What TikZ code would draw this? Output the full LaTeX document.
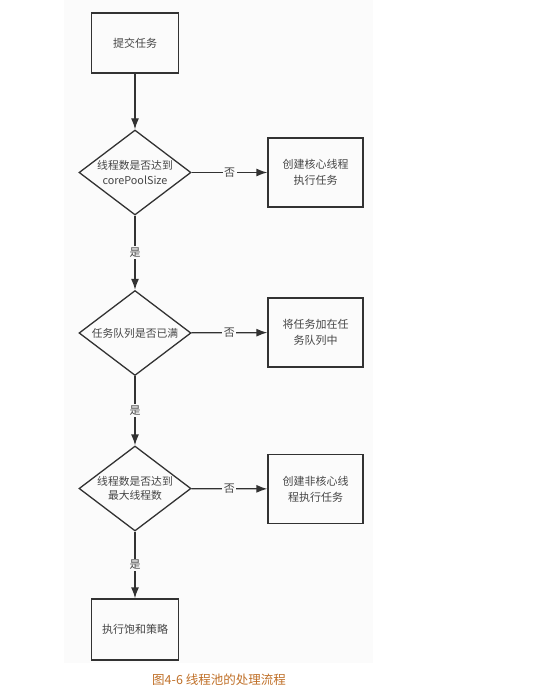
\documentclass[tikz,border=0pt]{standalone}
\usepackage{fontspec}
\newfontfamily\cjk{Noto Sans CJK SC}
\usepackage{xcolor}
\usepackage{tikz}
\usetikzlibrary{shapes.geometric}
\usetikzlibrary{arrows.meta}
\definecolor{linegray}{RGB}{50,50,50}
\definecolor{textgray}{RGB}{70,70,70}
\definecolor{panelgray}{RGB}{251,251,251}
\definecolor{capcolor}{RGB}{192,112,40}

\begin{document}
\begin{tikzpicture}[x=1pt, y=1pt, font=\cjk, text=textgray,
  box/.style = {draw=linegray, line width=1.3pt, align=center, inner sep=0pt, font=\cjk\fontsize{11}{16}\selectfont},
  choice/.style = {diamond, draw=linegray, line width=1.3pt, align=center, inner sep=0pt, aspect=1.32, minimum width=112pt, minimum height=85pt, font=\cjk\fontsize{10.8}{14.5}\selectfont},
  flow/.style = {draw=linegray, line width=1.3pt, -{Latex[length=11pt, width=8pt]}},
  tag/.style = {fill=panelgray, inner sep=1.5pt, font=\cjk\fontsize{11}{12}\selectfont}]
  %page and panel
  \useasboundingbox (0, 0) rectangle (555, -693);
  \fill [white] (0, 0) rectangle (555, -693);
  \fill [panelgray] (64, 0) rectangle (373, -663);

  %left column
  \node[box, minimum width=87pt, minimum height=60pt] (submit) at (135, -43) {提交任务};
  \node[choice] (corefull) at (135, -172.5) {线程数是否达到\\corePoolSize};
  \node[choice] (queuefull) at (135, -333) {任务队列是否已满};
  \node[choice] (maxfull) at (135, -488.5) {线程数是否达到\\最大线程数};
  \node[box, minimum width=87pt, minimum height=61pt] (reject) at (135, -629.5) {执行饱和策略};

  %right column
  \node[box, minimum width=95pt, minimum height=69pt] (newcore) at (315.5, -172.5) {创建核心线程\\执行任务};
  \node[box, minimum width=95pt, minimum height=69pt] (enqueue) at (315.5, -332.5) {将任务加在任\\务队列中};
  \node[box, minimum width=95pt, minimum height=69pt] (newworker) at (315.5, -489) {创建非核心线\\程执行任务};

  %yes branch
  \draw [flow] (submit) -- (corefull);
  \draw [flow] (corefull) -- node[tag] (yes1) {是} (queuefull);
  \draw [flow] (queuefull) -- node[tag] (yes2) {是} (maxfull);
  \draw [flow] (maxfull) -- node[tag] (yes3) {是} (reject);

  %no branch
  \draw [flow] (corefull) -- node[tag] (no1) {否} (newcore);
  \draw [flow] (queuefull) -- node[tag] (no2) {否} (enqueue);
  \draw [flow] (maxfull) -- node[tag] (no3) {否} (newworker);

  %caption
  \node[text=capcolor, font=\cjk\fontsize{12.5}{14}\selectfont] (caption) at (219, -680) {图4-6 线程池的处理流程};
\end{tikzpicture}
\end{document}
